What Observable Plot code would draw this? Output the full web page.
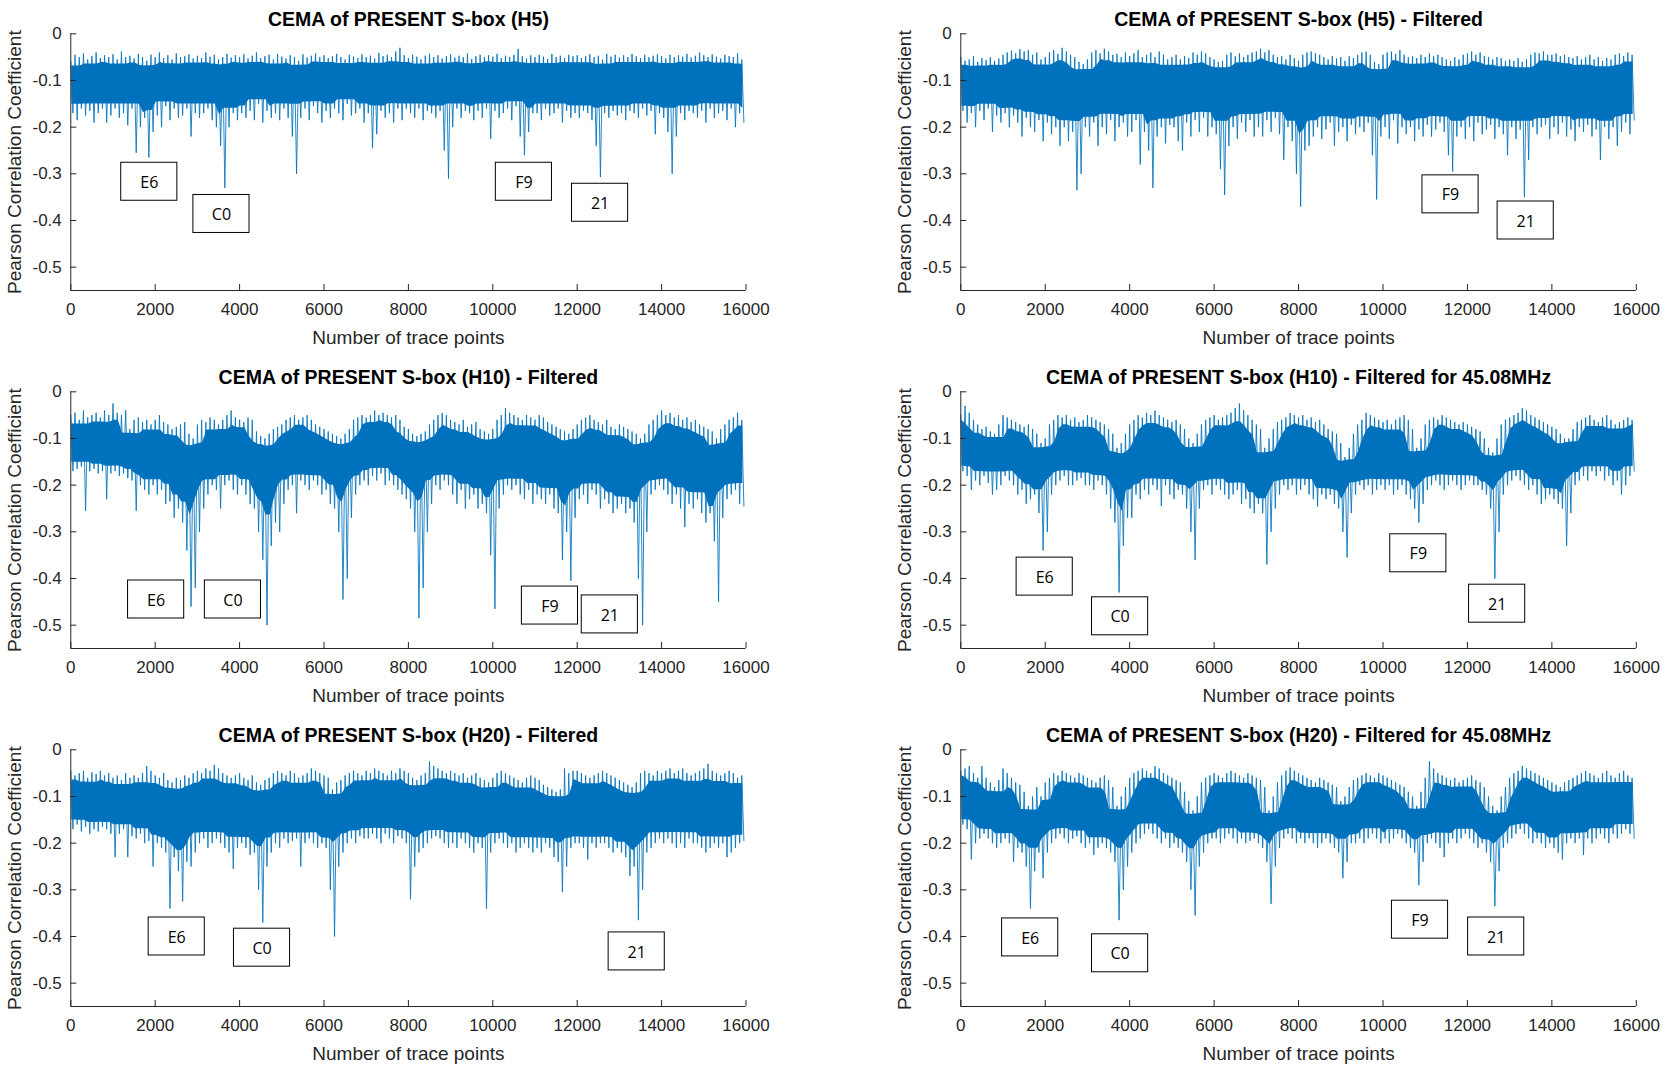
<!DOCTYPE html>
<html><head><meta charset="utf-8">
<script src="https://cdn.jsdelivr.net/npm/d3@7"></script>
<script src="https://cdn.jsdelivr.net/npm/@observablehq/plot@0.6"></script>
<style>
body{margin:0;background:#fff}
#chart{position:relative;width:1663px;height:1073px;background:#fff;overflow:hidden}
#chart svg{position:absolute}
</style>
</head><body><div id="chart"></div>
<script>
// ---- axes ----
const X_TICKS = [0,2000,4000,6000,8000,10000,12000,14000,16000];
const Y_TICKS = [0,-0.1,-0.2,-0.3,-0.4,-0.5];
const X_STEP = 100; // envelope sampling interval (trace points): max then min per interval

// ---- titles ----
const TITLES = [
  "CEMA of PRESENT S-box (H5)",
  "CEMA of PRESENT S-box (H5) - Filtered",
  "CEMA of PRESENT S-box (H10) - Filtered",
  "CEMA of PRESENT S-box (H10) - Filtered for 45.08MHz",
  "CEMA of PRESENT S-box (H20) - Filtered",
  "CEMA of PRESENT S-box (H20) - Filtered for 45.08MHz"
];

// ---- panel 1: H5 ----
const hiP1 = [
-.06,-.045,-.05,-.042,-.055,-.048,-.04,-.052,-.046,-.05,
-.044,-.055,-.038,-.05,-.047,-.053,-.043,-.05,-.058,-.045,
-.05,-.04,-.052,-.046,-.055,-.042,-.05,-.048,-.044,-.053,
-.047,-.052,-.04,-.049,-.045,-.055,-.05,-.043,-.051,-.046,
-.05,-.044,-.053,-.047,-.04,-.052,-.048,-.045,-.055,-.043,
-.049,-.053,-.046,-.05,-.058,-.044,-.051,-.047,-.042,-.05,
-.046,-.052,-.048,-.043,-.05,-.055,-.045,-.049,-.052,-.044,
-.05,-.047,-.053,-.041,-.048,-.045,-.05,-.038,-.03,-.046,
-.052,-.045,-.049,-.055,-.047,-.043,-.05,-.046,-.053,-.048,
-.044,-.051,-.047,-.05,-.042,-.054,-.048,-.045,-.05,-.046,
-.049,-.043,-.052,-.047,-.05,-.045,-.032,-.048,-.053,-.046,
-.05,-.045,-.049,-.054,-.043,-.05,-.047,-.052,-.045,-.048,
-.046,-.052,-.048,-.044,-.05,-.047,-.055,-.043,-.049,-.045,
-.051,-.046,-.05,-.043,-.048,-.052,-.045,-.05,-.047,-.044,
-.048,-.053,-.045,-.05,-.046,-.049,-.043,-.051,-.047,-.04,
-.046,-.05,-.044,-.049,-.053,-.045,-.048,-.05,-.042,-.055];
const loP1 = [
-.17,-.185,-.16,-.175,-.165,-.19,-.17,-.16,-.19,-.175,
-.16,-.18,-.17,-.196,-.16,-.255,-.2,-.18,-.265,-.21,
-.175,-.2,-.155,-.185,-.16,-.18,-.175,-.16,-.22,-.17,
-.18,-.17,-.16,-.185,-.2,-.24,-.33,-.2,-.17,-.185,
-.17,-.18,-.165,-.185,-.15,-.19,-.165,-.18,-.17,-.185,
-.16,-.18,-.22,-.3,-.18,-.16,-.185,-.155,-.17,-.19,
-.165,-.18,-.16,-.17,-.185,-.15,-.175,-.17,-.16,-.19,
-.17,-.245,-.215,-.165,-.18,-.17,-.19,-.16,-.185,-.16,
-.17,-.18,-.16,-.185,-.165,-.17,-.18,-.165,-.25,-.31,
-.2,-.16,-.18,-.165,-.17,-.185,-.165,-.18,-.16,-.225,
-.165,-.18,-.17,-.16,-.185,-.155,-.22,-.26,-.21,-.17,
-.17,-.185,-.16,-.175,-.17,-.16,-.19,-.165,-.18,-.17,
-.18,-.165,-.17,-.185,-.24,-.307,-.17,-.18,-.165,-.175,
-.17,-.185,-.165,-.17,-.18,-.16,-.175,-.165,-.215,-.17,
-.18,-.21,-.3,-.22,-.17,-.185,-.165,-.17,-.18,-.165,
-.19,-.16,-.18,-.17,-.165,-.185,-.16,-.2,-.17,-.19];
const labP1 = [{label:"E6",x:1860,y:-0.317},{label:"C0",x:3570,y:-0.386},{label:"F9",x:10737,y:-0.317},{label:"21",x:12542,y:-0.362}];

// ---- panel 2: H5 filtered ----
const hiP2 = [
-.05,-.058,-.055,-.048,-.06,-.052,-.056,-.05,-.058,-.053,
-.045,-.04,-.036,-.042,-.033,-.038,-.035,-.045,-.04,-.055,
-.05,-.04,-.035,-.043,-.03,-.038,-.045,-.05,-.06,-.065,
-.055,-.04,-.035,-.042,-.032,-.038,-.045,-.043,-.05,-.04,
-.048,-.042,-.035,-.05,-.045,-.04,-.05,-.038,-.045,-.055,
-.05,-.045,-.055,-.048,-.052,-.04,-.045,-.038,-.042,-.05,
-.055,-.06,-.058,-.045,-.04,-.048,-.042,-.05,-.045,-.04,
-.038,-.032,-.04,-.035,-.045,-.05,-.048,-.055,-.045,-.052,
-.058,-.045,-.04,-.038,-.042,-.045,-.05,-.055,-.048,-.053,
-.05,-.058,-.048,-.052,-.045,-.04,-.038,-.045,-.06,-.065,
-.045,-.04,-.038,-.043,-.035,-.045,-.05,-.048,-.052,-.045,
-.05,-.042,-.048,-.045,-.05,-.055,-.058,-.05,-.055,-.045,
-.042,-.038,-.045,-.04,-.048,-.05,-.055,-.05,-.052,-.058,
-.055,-.058,-.052,-.06,-.055,-.045,-.04,-.042,-.038,-.045,
-.045,-.042,-.048,-.045,-.05,-.052,-.048,-.055,-.05,-.045,
-.055,-.05,-.058,-.052,-.055,-.045,-.042,-.048,-.04,-.045];
const loP2 = [
-.165,-.19,-.17,-.2,-.165,-.185,-.16,-.21,-.175,-.19,
-.17,-.2,-.175,-.19,-.22,-.18,-.2,-.21,-.185,-.23,
-.19,-.215,-.2,-.24,-.2,-.23,-.21,-.335,-.3,-.2,
-.22,-.19,-.24,-.2,-.215,-.185,-.23,-.2,-.19,-.22,
-.21,-.185,-.28,-.21,-.25,-.33,-.22,-.2,-.235,-.195,
-.2,-.23,-.25,-.19,-.22,-.185,-.21,-.18,-.22,-.2,
-.215,-.29,-.345,-.24,-.2,-.225,-.19,-.21,-.185,-.22,
-.2,-.22,-.185,-.21,-.18,-.215,-.27,-.2,-.23,-.3,
-.37,-.25,-.24,-.22,-.2,-.225,-.205,-.19,-.24,-.21,
-.2,-.23,-.195,-.215,-.2,-.21,-.19,-.26,-.355,-.22,
-.2,-.225,-.185,-.235,-.2,-.215,-.2,-.23,-.205,-.22,
-.195,-.22,-.205,-.19,-.21,-.26,-.295,-.22,-.2,-.225,
-.2,-.23,-.19,-.215,-.205,-.195,-.225,-.2,-.215,-.26,
-.2,-.225,-.205,-.35,-.27,-.2,-.215,-.2,-.195,-.225,
-.2,-.215,-.19,-.22,-.205,-.23,-.2,-.21,-.195,-.22,
-.205,-.27,-.2,-.225,-.2,-.24,-.21,-.19,-.215,-.185];
const labP2 = [{label:"F9",x:11600,y:-0.344},{label:"21",x:13380,y:-0.400}];

// ---- panel 3: H10 filtered ----
const hiP3 = [
-.05,-.045,-.06,-.04,-.055,-.05,-.045,-.055,-.04,-.05,
-.025,-.045,-.05,-.04,-.08,-.06,-.055,-.065,-.06,-.07,
-.06,-.05,-.065,-.07,-.08,-.075,-.07,-.065,-.09,-.1,
-.07,-.06,-.065,-.055,-.06,-.07,-.06,-.05,-.04,-.055,
-.06,-.065,-.055,-.06,-.085,-.095,-.1,-.09,-.08,-.075,
-.07,-.06,-.055,-.05,-.06,-.055,-.05,-.06,-.07,-.075,
-.08,-.085,-.09,-.095,-.1,-.09,-.08,-.06,-.055,-.05,
-.055,-.05,-.04,-.05,-.045,-.05,-.055,-.05,-.06,-.075,
-.08,-.09,-.095,-.09,-.085,-.07,-.06,-.05,-.045,-.05,
-.06,-.065,-.07,-.06,-.075,-.07,-.065,-.08,-.085,-.09,
-.08,-.06,-.05,-.035,-.045,-.05,-.055,-.06,-.05,-.055,
-.06,-.05,-.055,-.065,-.07,-.075,-.08,-.085,-.09,-.08,
-.07,-.06,-.055,-.05,-.06,-.065,-.07,-.06,-.075,-.08,
-.07,-.075,-.08,-.085,-.09,-.1,-.09,-.07,-.06,-.05,
-.04,-.05,-.045,-.055,-.05,-.06,-.055,-.065,-.06,-.07,
-.075,-.08,-.085,-.1,-.08,-.07,-.06,-.055,-.045,-.06];
const loP3 = [
-.17,-.165,-.16,-.255,-.17,-.165,-.175,-.17,-.23,-.175,
-.17,-.18,-.175,-.185,-.19,-.255,-.2,-.21,-.22,-.2,
-.22,-.21,-.24,-.235,-.27,-.25,-.28,-.34,-.46,-.42,
-.3,-.25,-.22,-.2,-.21,-.25,-.2,-.19,-.21,-.22,
-.2,-.22,-.24,-.25,-.3,-.36,-.5,-.33,-.28,-.3,
-.24,-.21,-.2,-.26,-.19,-.2,-.21,-.19,-.2,-.22,
-.21,-.24,-.25,-.3,-.445,-.4,-.27,-.22,-.2,-.19,
-.2,-.18,-.19,-.175,-.2,-.19,-.2,-.21,-.22,-.23,
-.25,-.3,-.485,-.42,-.3,-.24,-.2,-.21,-.19,-.2,
-.22,-.24,-.21,-.25,-.23,-.22,-.25,-.24,-.26,-.35,
-.465,-.25,-.22,-.2,-.21,-.2,-.22,-.23,-.21,-.24,
-.22,-.23,-.24,-.22,-.25,-.26,-.36,-.3,-.405,-.27,
-.23,-.22,-.24,-.21,-.22,-.25,-.23,-.24,-.26,-.25,
-.24,-.26,-.25,-.28,-.4,-.5,-.3,-.22,-.21,-.2,
-.21,-.22,-.24,-.22,-.25,-.29,-.24,-.25,-.23,-.26,
-.28,-.26,-.32,-.45,-.27,-.23,-.22,-.21,-.24,-.245];
const labP3 = [{label:"E6",x:2022,y:-0.445},{label:"C0",x:3842,y:-0.445},{label:"F9",x:11354,y:-0.458},{label:"21",x:12773,y:-0.477}];

// ---- panel 4: H10 filtered for 45.08MHz ----
const hiP4 = [
-.05,-.03,-.045,-.06,-.07,-.08,-.075,-.085,-.09,-.07,
-.05,-.055,-.06,-.065,-.07,-.075,-.07,-.08,-.09,-.11,
-.1,-.07,-.06,-.05,-.055,-.05,-.06,-.055,-.065,-.06,
-.05,-.055,-.06,-.065,-.07,-.08,-.09,-.12,-.11,-.09,
-.07,-.06,-.05,-.055,-.045,-.05,-.04,-.05,-.055,-.06,
-.065,-.06,-.07,-.08,-.1,-.11,-.09,-.07,-.06,-.055,
-.05,-.06,-.055,-.05,-.045,-.035,-.025,-.04,-.05,-.06,
-.07,-.08,-.12,-.1,-.08,-.065,-.06,-.055,-.045,-.05,
-.055,-.05,-.06,-.055,-.065,-.06,-.07,-.08,-.085,-.09,
-.11,-.14,-.12,-.09,-.07,-.06,-.045,-.05,-.055,-.06,
-.065,-.06,-.07,-.06,-.055,-.05,-.06,-.08,-.12,-.1,
-.07,-.06,-.055,-.06,-.05,-.055,-.06,-.065,-.07,-.065,
-.07,-.075,-.08,-.085,-.1,-.12,-.13,-.1,-.07,-.06,
-.055,-.05,-.045,-.035,-.04,-.05,-.055,-.06,-.065,-.07,
-.075,-.08,-.09,-.1,-.1,-.08,-.065,-.06,-.055,-.05,
-.06,-.065,-.055,-.05,-.06,-.07,-.065,-.06,-.055,-.06];
const loP4 = [
-.17,-.18,-.21,-.19,-.2,-.18,-.195,-.22,-.21,-.2,
-.18,-.19,-.2,-.22,-.21,-.24,-.23,-.22,-.26,-.34,
-.3,-.22,-.2,-.19,-.18,-.2,-.2,-.19,-.185,-.2,
-.2,-.21,-.19,-.2,-.22,-.25,-.28,-.43,-.33,-.27,
-.27,-.22,-.23,-.21,-.22,-.2,-.21,-.245,-.2,-.22,
-.23,-.21,-.22,-.25,-.3,-.36,-.25,-.21,-.2,-.22,
-.2,-.21,-.22,-.23,-.22,-.21,-.24,-.23,-.25,-.26,
-.24,-.26,-.37,-.3,-.25,-.22,-.2,-.21,-.2,-.22,
-.21,-.2,-.22,-.23,-.246,-.22,-.23,-.22,-.24,-.25,
-.3,-.355,-.26,-.22,-.2,-.21,-.2,-.22,-.21,-.2,
-.21,-.2,-.22,-.21,-.2,-.22,-.23,-.25,-.28,-.24,
-.21,-.2,-.19,-.2,-.21,-.2,-.19,-.2,-.21,-.2,
-.19,-.2,-.2,-.21,-.22,-.25,-.4,-.3,-.22,-.2,
-.19,-.18,-.19,-.2,-.21,-.2,-.22,-.24,-.23,-.22,
-.23,-.24,-.25,-.33,-.26,-.2,-.19,-.18,-.19,-.17,
-.18,-.17,-.19,-.18,-.2,-.19,-.22,-.2,-.18,-.17];
const labP4 = [{label:"E6",x:1987,y:-0.396},{label:"C0",x:3773,y:-0.481},{label:"F9",x:10837,y:-0.346},{label:"21",x:12704,y:-0.454}];

// ---- panel 5: H20 filtered ----
const hiP5 = [
-.045,-.055,-.05,-.045,-.06,-.048,-.052,-.045,-.055,-.05,
-.06,-.055,-.065,-.05,-.06,-.055,-.06,-.05,-.035,-.045,
-.055,-.06,-.05,-.065,-.07,-.06,-.065,-.055,-.06,-.05,
-.045,-.05,-.04,-.045,-.032,-.04,-.05,-.055,-.06,-.055,
-.05,-.06,-.065,-.055,-.07,-.075,-.065,-.06,-.05,-.045,
-.05,-.055,-.045,-.05,-.06,-.055,-.05,-.04,-.045,-.05,
-.055,-.06,-.085,-.07,-.065,-.055,-.05,-.045,-.05,-.055,
-.045,-.05,-.04,-.045,-.05,-.055,-.045,-.05,-.04,-.045,
-.05,-.06,-.065,-.055,-.05,-.025,-.035,-.04,-.045,-.05,
-.045,-.05,-.055,-.05,-.06,-.055,-.05,-.06,-.065,-.07,
-.06,-.05,-.045,-.05,-.055,-.06,-.065,-.07,-.06,-.055,
-.06,-.065,-.075,-.08,-.085,-.09,-.085,-.04,-.05,-.045,
-.045,-.05,-.055,-.06,-.055,-.05,-.045,-.05,-.055,-.06,
-.065,-.07,-.075,-.08,-.07,-.05,-.045,-.05,-.055,-.045,
-.05,-.045,-.04,-.05,-.045,-.04,-.05,-.055,-.05,-.045,
-.04,-.03,-.045,-.05,-.055,-.05,-.045,-.05,-.06,-.055];
const loP5 = [
-.17,-.16,-.175,-.165,-.18,-.17,-.175,-.165,-.17,-.18,
-.23,-.18,-.17,-.23,-.185,-.19,-.18,-.2,-.195,-.25,
-.2,-.21,-.22,-.34,-.23,-.26,-.325,-.24,-.25,-.22,
-.2,-.19,-.21,-.2,-.19,-.2,-.21,-.22,-.255,-.21,
-.2,-.21,-.225,-.22,-.3,-.37,-.25,-.22,-.2,-.21,
-.19,-.2,-.195,-.19,-.25,-.2,-.19,-.2,-.21,-.2,
-.21,-.3,-.4,-.25,-.22,-.2,-.19,-.2,-.185,-.19,
-.19,-.18,-.19,-.2,-.18,-.19,-.2,-.185,-.19,-.2,
-.32,-.25,-.22,-.21,-.2,-.19,-.185,-.19,-.2,-.21,
-.2,-.21,-.19,-.2,-.21,-.22,-.2,-.21,-.34,-.22,
-.2,-.19,-.2,-.21,-.2,-.22,-.21,-.2,-.21,-.22,
-.21,-.22,-.2,-.21,-.23,-.24,-.305,-.25,-.21,-.2,
-.2,-.21,-.235,-.2,-.21,-.2,-.2,-.21,-.22,-.21,
-.22,-.23,-.27,-.25,-.365,-.3,-.22,-.21,-.2,-.19,
-.2,-.19,-.2,-.21,-.2,-.21,-.19,-.2,-.2,-.21,
-.22,-.21,-.2,-.21,-.2,-.23,-.22,-.21,-.2,-.195];
const labP5 = [{label:"E6",x:2510,y:-0.400},{label:"C0",x:4531,y:-0.424},{label:"21",x:13410,y:-0.432}];

// ---- panel 6: H20 filtered for 45.08MHz ----
const hiP6 = [
-.045,-.04,-.035,-.05,-.06,-.035,-.06,-.07,-.08,-.065,
-.04,-.05,-.06,-.07,-.075,-.09,-.12,-.1,-.08,-.1,
-.07,-.06,-.05,-.055,-.045,-.05,-.055,-.06,-.05,-.055,
-.06,-.065,-.07,-.06,-.055,-.065,-.08,-.12,-.1,-.08,
-.06,-.05,-.045,-.04,-.045,-.05,-.035,-.04,-.05,-.055,
-.06,-.065,-.07,-.09,-.11,-.13,-.1,-.07,-.06,-.055,
-.05,-.055,-.06,-.05,-.045,-.05,-.055,-.06,-.05,-.055,
-.06,-.065,-.08,-.13,-.1,-.07,-.055,-.045,-.038,-.045,
-.05,-.055,-.06,-.065,-.07,-.06,-.065,-.07,-.075,-.08,
-.11,-.1,-.08,-.065,-.06,-.055,-.05,-.055,-.06,-.05,
-.055,-.06,-.065,-.07,-.075,-.08,-.09,-.1,-.12,-.09,
-.06,-.025,-.04,-.05,-.055,-.06,-.065,-.06,-.07,-.065,
-.06,-.055,-.065,-.07,-.08,-.1,-.12,-.13,-.1,-.08,
-.06,-.05,-.045,-.035,-.04,-.045,-.05,-.055,-.06,-.065,
-.07,-.075,-.08,-.07,-.065,-.06,-.055,-.05,-.045,-.05,
-.055,-.06,-.05,-.045,-.055,-.06,-.05,-.045,-.055,-.06];
const loP6 = [
-.16,-.17,-.235,-.2,-.19,-.18,-.19,-.2,-.21,-.2,
-.19,-.2,-.24,-.21,-.22,-.25,-.34,-.26,-.22,-.275,
-.22,-.2,-.19,-.18,-.19,-.2,-.19,-.185,-.2,-.21,
-.2,-.225,-.21,-.2,-.21,-.22,-.24,-.365,-.3,-.25,
-.22,-.2,-.19,-.18,-.17,-.18,-.19,-.2,-.19,-.21,
-.2,-.21,-.22,-.24,-.3,-.355,-.25,-.22,-.2,-.19,
-.19,-.2,-.19,-.18,-.19,-.2,-.19,-.2,-.195,-.19,
-.2,-.21,-.24,-.33,-.25,-.21,-.19,-.18,-.19,-.2,
-.19,-.2,-.19,-.2,-.21,-.2,-.19,-.2,-.21,-.22,
-.275,-.24,-.2,-.2,-.19,-.2,-.19,-.18,-.19,-.2,
-.19,-.2,-.19,-.18,-.19,-.2,-.21,-.22,-.29,-.24,
-.2,-.19,-.2,-.21,-.23,-.2,-.19,-.2,-.19,-.18,
-.19,-.2,-.21,-.2,-.22,-.24,-.335,-.26,-.21,-.2,
-.19,-.18,-.17,-.18,-.19,-.2,-.19,-.2,-.21,-.2,
-.21,-.22,-.235,-.2,-.19,-.2,-.19,-.225,-.19,-.2,
-.19,-.18,-.19,-.2,-.18,-.19,-.18,-.17,-.18,-.19];
const labP6 = [{label:"E6",x:1643,y:-0.402},{label:"C0",x:3773,y:-0.436},{label:"F9",x:10877,y:-0.364},{label:"21",x:12681,y:-0.400}];

// ---- build ----
const panels = [
  {title: TITLES[0], hi: hiP1, lo: loP1, labels: labP1, col: 0, row: 0},
  {title: TITLES[1], hi: hiP2, lo: loP2, labels: labP2, col: 1, row: 0},
  {title: TITLES[2], hi: hiP3, lo: loP3, labels: labP3, col: 0, row: 1},
  {title: TITLES[3], hi: hiP4, lo: loP4, labels: labP4, col: 1, row: 1},
  {title: TITLES[4], hi: hiP5, lo: loP5, labels: labP5, col: 0, row: 2},
  {title: TITLES[5], hi: hiP6, lo: loP6, labels: labP6, col: 1, row: 2}
];

// style constants
const LINE = "#0072BD", AXIS = "#262626";
const FONT = "Liberation Sans, Arial, sans-serif";
const BOX_FONT = "Open Sans, Lato, sans-serif";
const BOX_HW = 665, BOX_HH = 0.0407; // half box size in data units (about 56 x 38 px)
const COLS = [{left: 0, width: 830, ml: 70.3, mr: 84.5}, {left: 830, width: 833, ml: 130.3, mr: 27.2}];
const ROW_TOP = [0, 358.4, 716.4];
const MT = 33.3, FRAME_H = 256.7, MB = 62;
const CORE_HALF = 2;    // neighbouring intervals on each side used for the dense core
const CORE_INSET = 0.09; // visual: the solid core sits a little inside the envelope

// the trace: within each sampling interval it reaches its max (hi) then its min (lo)
function zigzag(hi, lo) {
  const rows = [];
  hi.forEach((h, i) => {
    rows.push({x: i * X_STEP, y: h});
    rows.push({x: i * X_STEP + X_STEP / 2, y: lo[i]});
  });
  return rows;
}
// dense core of the trace: inner envelope over neighbouring intervals
function core(hi, lo) {
  return hi.map((h, i) => {
    const a = Math.max(0, i - CORE_HALF), b = Math.min(hi.length, i + CORE_HALF + 1);
    const t = d3.min(hi.slice(a, b)), u = d3.max(lo.slice(a, b));
    const pad = (t - u) * CORE_INSET;
    return {x: i * X_STEP + X_STEP / 4, top: t - pad, bot: u + pad};
  });
}

const root = document.getElementById("chart");
for (const p of panels) {
  const c = COLS[p.col];
  const svg = Plot.plot({
    width: c.width,
    height: MT + FRAME_H + MB,
    marginLeft: c.ml, marginRight: c.mr, marginTop: MT, marginBottom: MB,
    style: {fontFamily: FONT, fontSize: "17px", color: AXIS, background: "transparent", overflow: "visible"},
    x: {domain: [0, 16000]},
    y: {domain: [-0.55, 0]},
    marks: [
      Plot.areaY(core(p.hi, p.lo), {x: "x", y1: "top", y2: "bot", fill: LINE, curve: "linear"}),
      Plot.line(zigzag(p.hi, p.lo), {x: "x", y: "y", stroke: LINE, strokeWidth: 0.85, strokeLinejoin: "miter"}),
      Plot.rect(p.labels, {x1: d => d.x - BOX_HW, x2: d => d.x + BOX_HW, y1: d => d.y - BOX_HH, y2: d => d.y + BOX_HH, fill: "white", stroke: "black", strokeWidth: 1}),
      Plot.text(p.labels, {x: "x", y: "y", text: "label", fontFamily: BOX_FONT, fontSize: 16, fill: "black", dy: 1}),
      Plot.ruleX([0], {stroke: AXIS, strokeWidth: 1}),
      Plot.ruleY([-0.55], {stroke: AXIS, strokeWidth: 1}),
      Plot.axisX({ticks: X_TICKS, tickFormat: d => String(d), tickSize: -6, tickPadding: 18, label: null, stroke: AXIS}),
      Plot.axisY({ticks: Y_TICKS, tickFormat: d => String(d), tickSize: -6, tickPadding: 15, label: null, stroke: AXIS}),
      Plot.text([p.title], {text: d => d, frameAnchor: "top", dy: -14, lineAnchor: "middle", fontWeight: "bold", fontSize: 19.5, fill: "black"}),
      Plot.text(["Pearson Correlation Coefficient"], {text: d => d, frameAnchor: "left", rotate: -90, dx: -56, textAnchor: "middle", lineAnchor: "middle", fontSize: 19, fill: AXIS}),
      Plot.text(["Number of trace points"], {text: d => d, frameAnchor: "bottom", dy: 47, lineAnchor: "middle", fontSize: 19, fill: AXIS})
    ]
  });
  svg.style.left = c.left + "px";
  svg.style.top = ROW_TOP[p.row] + "px";
  root.appendChild(svg);
}
</script></body></html>
